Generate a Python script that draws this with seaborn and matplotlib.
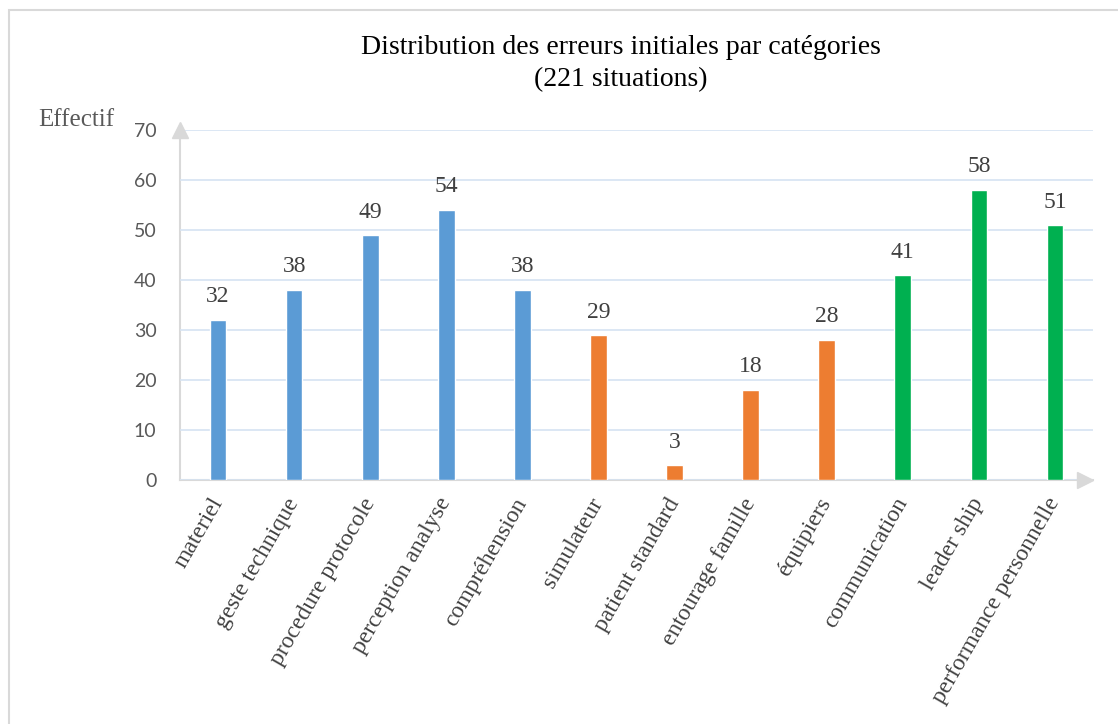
import numpy as np
import pandas as pd
import matplotlib.pyplot as plt
import matplotlib.patches as mpatches
import seaborn as sns

#data
categories = [
    "materiel", "geste technique", "procedure protocole", "perception analyse",
    "compréhension", "simulateur", "patient standard", "entourage famille",
    "équipiers", "communication", "leader ship", "performance personnelle"
    ]
effectifs = [32, 38, 49, 54, 38, 29, 3, 18, 28, 41, 58, 51]
groupes = ["individu"] * 5 + ["environnement"] * 4 + ["équipe"] * 3
couleurs = {"individu": "#5B9BD5", "environnement": "#ED7D31", "équipe": "#00B050"}

df = pd.DataFrame({"categorie": categories, "effectif": effectifs, "groupe": groupes})

sns.set_style("white")
serif = ["Liberation Serif", "DejaVu Serif"]
sans = ["Lato", "DejaVu Sans"]

fig = plt.figure(figsize=(11.18, 7.24), dpi=100)
ax = fig.add_axes([180 / 1118, 1 - 480 / 724, (1093 - 180) / 1118, (480 - 130) / 724])

sns.barplot(
    data = df,
    x = "categorie",
    y = "effectif",
    hue = "groupe",
    palette = couleurs,
    saturation = 1,
    dodge = False,
    width = 0.22,
    legend = False,
    ax = ax
    )

ax.set_xlim(-0.5, 11.5)
ax.set_ylim(0, 70)
ax.set_yticks(range(0, 71, 10))
ax.yaxis.grid(True, color = "#D6E3F2", lw = 1.2)
ax.set_axisbelow(True)
for s in ["top", "right"]:
    ax.spines[s].set_visible(False)
for s in ["left", "bottom"]:
    ax.spines[s].set_color("#D9D9D9")
    ax.spines[s].set_linewidth(1.5)
    ax.spines[s].set_zorder(0.5)

#arrow heads on the axes
ax.plot(0, 1.0, marker = "^", ms = 11, color = "#D9D9D9", transform = ax.transAxes,
        clip_on = False, zorder = 3)
ax.plot(0.991, 0, marker = ">", ms = 11, color = "#D9D9D9", transform = ax.transAxes,
        clip_on = False, zorder = 3)

ax.set_xlabel("")
ax.set_ylabel("")
ax.set_xticks(np.arange(len(categories)))
ax.set_xticklabels(categories, rotation = 60, ha = "right", va = "center",
                   rotation_mode = "anchor", family = serif, fontsize = 17, color = "#404040")
ax.set_xticks(np.arange(-0.5, 12, 1), minor = True)
ax.tick_params(axis = "x", which = "major", length = 0, pad = 14)
ax.tick_params(axis = "x", which = "minor", length = 5, width = 1.5, color = "#D9D9D9", direction = "out")
ax.tick_params(axis = "y", length = 0, pad = 17)
for t in ax.get_yticklabels():
    t.set_family(sans)
    t.set_fontsize(14)
    t.set_color("#595959")

for c in ax.containers:
    ax.bar_label(c, padding = 9, fontsize = 17, family = serif, color = "#404040")

fig.text(0.555, 1 - 48 / 724, "Distribution des erreurs initiales par catégories",
         ha = "center", va = "center", family = serif, fontsize = 20, color = "#000000")
fig.text(0.555, 1 - 80 / 724, "(221 situations)",
         ha = "center", va = "center", family = serif, fontsize = 20, color = "#000000")
fig.text(38 / 1118, 1 - 120 / 724, "Effectif", ha = "left", va = "center",
         family = serif, fontsize = 18, color = "#595959")

#chart frame, cropped at right and bottom
fig.patches.append(mpatches.Rectangle((9 / 1118, -0.1), 1.2, 1 - 10 / 724 + 0.1,
                   transform = fig.transFigure, fill = False, ec = "#D9D9D9", lw = 1.5))

fig.savefig("out.png", dpi = 100)
